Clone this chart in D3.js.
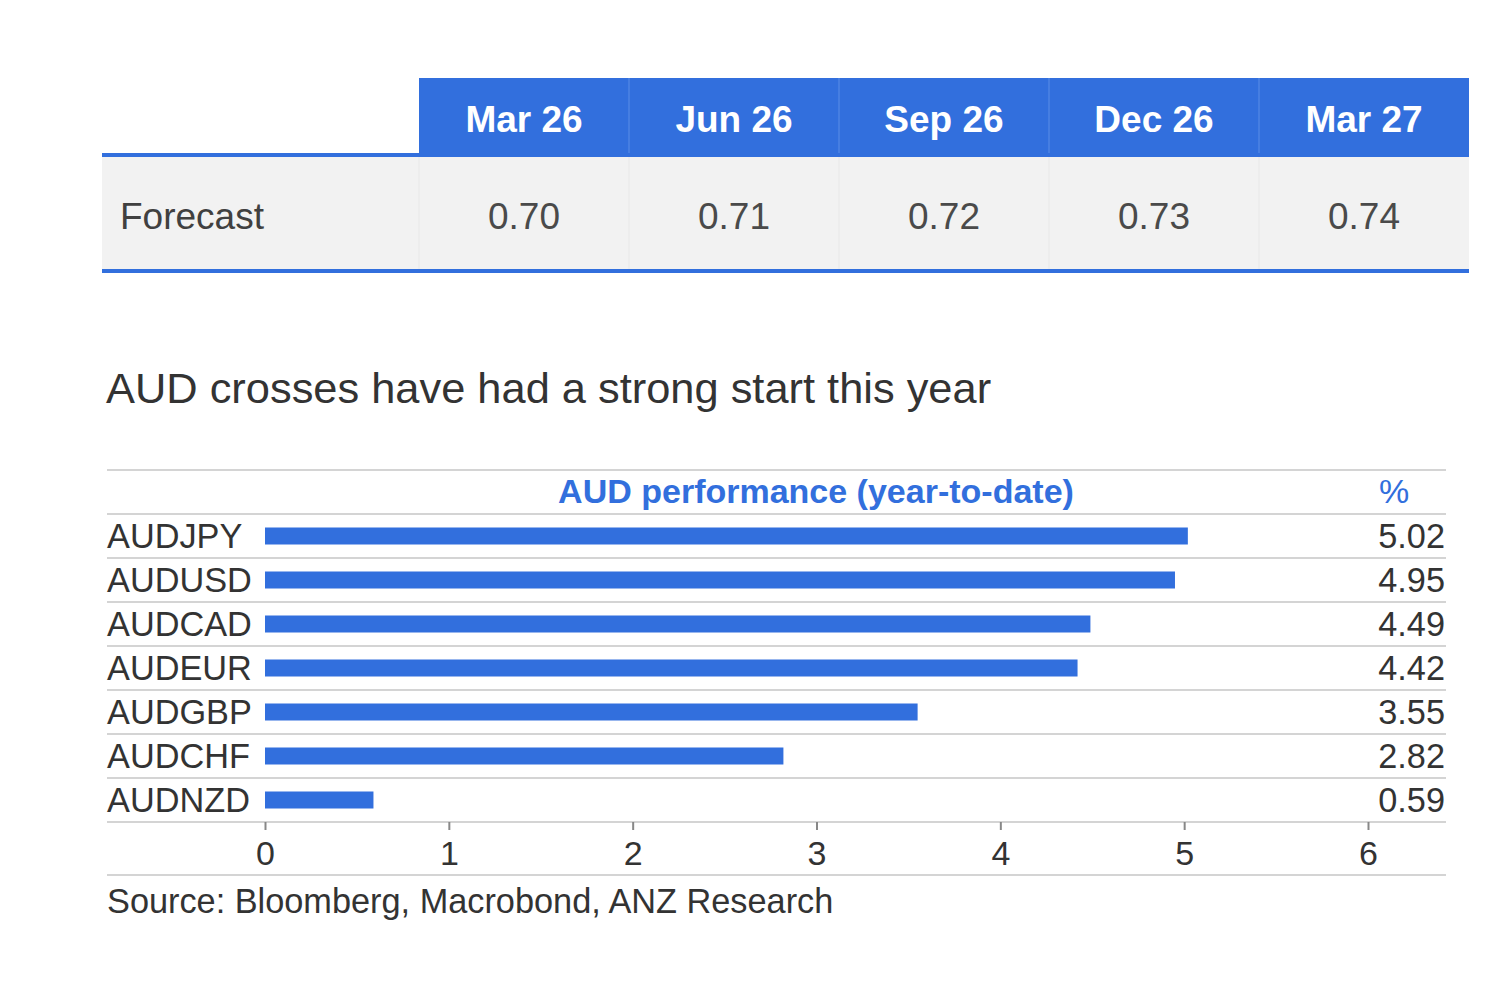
<!DOCTYPE html>
<html><head><meta charset="utf-8">
<script src="https://cdn.jsdelivr.net/npm/d3@7"></script>
<style>body{margin:0;background:#fff}</style>
</head><body>
<svg id="c" width="1502" height="996"></svg>
<script>
const periods = ["Mar 26","Jun 26","Sep 26","Dec 26","Mar 27"];
const forecast = [0.70,0.71,0.72,0.73,0.74];
const pairs = ["AUDJPY","AUDUSD","AUDCAD","AUDEUR","AUDGBP","AUDCHF","AUDNZD"];
const perf = [5.02,4.95,4.49,4.42,3.55,2.82,0.59];
const xTicks = [0,1,2,3,4,5,6];

const BLUE = "#326fdd";
const svg = d3.select("#c");
const font = "'Liberation Sans', Arial, sans-serif";

// ---- Table ----
const tx = d3.scaleBand().domain(periods).range([419,1469]);
const tHead = svg.append("g");
tHead.append("rect").attr("x",419).attr("y",78).attr("width",1050).attr("height",77).attr("fill",BLUE);
tHead.append("rect").attr("x",102).attr("y",157).attr("width",1367).attr("height",113).attr("fill","#f2f2f2");
periods.slice(1).forEach(p=>{
  tHead.append("line").attr("x1",tx(p)).attr("x2",tx(p)).attr("y1",78).attr("y2",155).attr("stroke","#5a8ee6").attr("stroke-width",1);
  tHead.append("line").attr("x1",tx(p)).attr("x2",tx(p)).attr("y1",157).attr("y2",269).attr("stroke","#e8e8e8").attr("stroke-width",1);
});
tHead.append("line").attr("x1",419).attr("x2",419).attr("y1",157).attr("y2",269).attr("stroke","#e8e8e8");
tHead.append("rect").attr("x",102).attr("y",153).attr("width",1367).attr("height",4).attr("fill",BLUE);
tHead.append("rect").attr("x",102).attr("y",269).attr("width",1367).attr("height",4).attr("fill",BLUE);
tHead.selectAll("text.h").data(periods).join("text")
  .attr("x",d=>tx(d)+tx.bandwidth()/2).attr("y",132).attr("text-anchor","middle")
  .attr("fill","#fff").attr("font-family",font).attr("font-weight","bold").attr("font-size",37)
  .text(d=>d);
tHead.append("text").attr("x",120).attr("y",229).attr("fill","#404040").attr("font-family",font).attr("font-size",37).text("Forecast");
tHead.selectAll("text.v").data(forecast).join("text")
  .attr("x",(d,i)=>tx(periods[i])+tx.bandwidth()/2).attr("y",229).attr("text-anchor","middle")
  .attr("fill","#4a4a4a").attr("font-family",font).attr("font-size",37).text(d=>d.toFixed(2));

// ---- Title ----
svg.append("text").attr("x",106).attr("y",403).attr("fill","#333").attr("font-family",font).attr("font-size",43.4)
  .text("AUD crosses have had a strong start this year");

// ---- Bar chart ----
const x = d3.scaleLinear().domain([0,6]).range([265,1368]);
const y = d3.scaleBand().domain(pairs).range([514,822]);
const g = svg.append("g");
const gridY = [470, ...pairs.map(p=>y(p)), 822, 875];
g.selectAll("line.grid").data(gridY).join("line")
  .attr("x1",107).attr("x2",1446).attr("y1",d=>d).attr("y2",d=>d)
  .attr("stroke","#d4d4d4").attr("stroke-width",2);
g.append("text").attr("x",816).attr("y",503).attr("text-anchor","middle").attr("fill",BLUE)
  .attr("font-family",font).attr("font-weight","bold").attr("font-size",34).text("AUD performance (year-to-date)");
g.append("text").attr("x",1394).attr("y",503).attr("text-anchor","middle").attr("fill",BLUE)
  .attr("font-family",font).attr("font-size",34).text("%");
g.selectAll("rect.bar").data(perf).join("rect")
  .attr("x",x(0)).attr("y",(d,i)=>y(pairs[i])+y.bandwidth()/2-8.5)
  .attr("width",d=>x(d)-x(0)).attr("height",17).attr("fill",BLUE);
g.selectAll("text.lab").data(pairs).join("text")
  .attr("x",107).attr("y",d=>y(d)+y.bandwidth()/2+12).attr("fill","#333")
  .attr("font-family",font).attr("font-size",34.3).text(d=>d);
g.selectAll("text.val").data(perf).join("text")
  .attr("x",1445).attr("y",(d,i)=>y(pairs[i])+y.bandwidth()/2+12).attr("text-anchor","end").attr("fill","#333")
  .attr("font-family",font).attr("font-size",34.3).text(d=>d.toFixed(2));
const ax = g.append("g").attr("transform","translate(0,822)")
  .call(d3.axisBottom(x).tickValues(xTicks).tickSize(8).tickFormat(d3.format("d")));
ax.select(".domain").remove();
ax.selectAll(".tick line").attr("stroke","#888").attr("stroke-width",2);
ax.selectAll(".tick text").attr("font-family",font).attr("font-size",34).attr("fill","#333").attr("y",19);
svg.append("text").attr("x",107).attr("y",913).attr("fill","#333").attr("font-family",font).attr("font-size",34.3)
  .text("Source: Bloomberg, Macrobond, ANZ Research");
</script>
</body></html>
